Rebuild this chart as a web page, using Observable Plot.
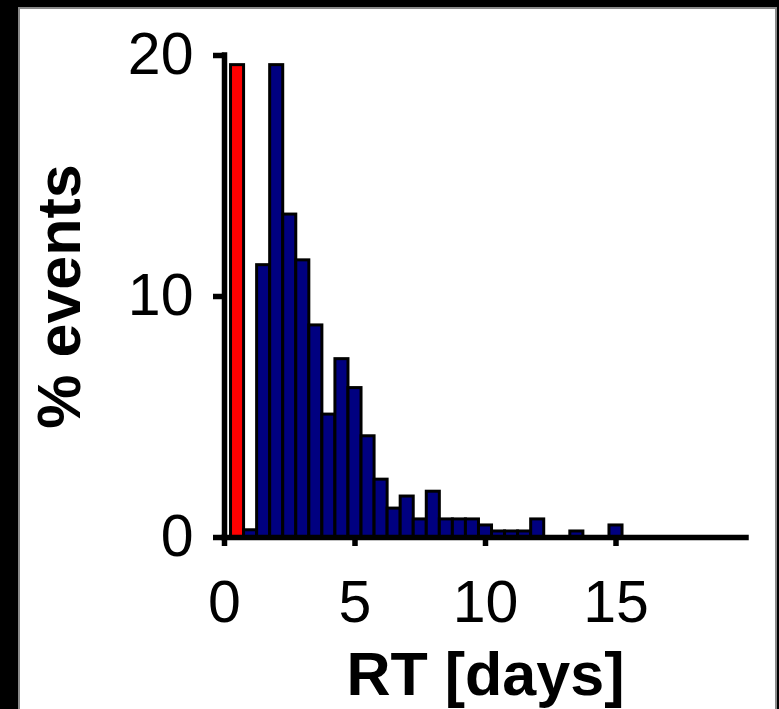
<!DOCTYPE html>
<html>
<head>
<meta charset="utf-8">
<script src="https://cdn.jsdelivr.net/npm/d3@7"></script>
<script src="https://cdn.jsdelivr.net/npm/@observablehq/plot@0.6"></script>
<style>
  html, body { margin: 0; padding: 0; background: #000; width: 779px; height: 709px; overflow: hidden; }
  #panel { position: absolute; left: 18px; top: 7px; width: 759px; height: 710px; background: #fff; border: 2px solid #8a8a8a; box-sizing: border-box; }
  #chart { position: absolute; left: 0; top: 0; }
  #chart g[aria-label$="axis tick"] > * { stroke-width: 5.5px; }
</style>
</head>
<body>
<div id="panel"></div>
<div id="chart"></div>
<script>
// Data (bin centres in days, % of events)
const redDays = [0.5];
const redPct = [19.6];
const blueDays = [1.0, 1.5, 2.0, 2.5, 3.0, 3.5, 4.0, 4.5, 5.0, 5.5, 6.0, 6.5, 7.0, 7.5, 8.0, 8.5, 9.0, 9.5, 10.0, 10.5, 11.0, 11.5, 12.0, 13.5, 15.0];
const bluePct = [0.3, 11.3, 19.6, 13.4, 11.5, 8.8, 5.1, 7.4, 6.2, 4.2, 2.4, 1.2, 1.7, 0.75, 1.9, 0.75, 0.75, 0.75, 0.5, 0.25, 0.25, 0.25, 0.75, 0.25, 0.5];
const binWidth = 0.5;
const xTicks = [0, 5, 10, 15];
const yTicks = [0, 10, 20];
const xLabel = "RT [days]";
const yLabel = "% events";

const redData = redDays.map((d, i) => ({day: d, pct: redPct[i]}));
const blueData = blueDays.map((d, i) => ({day: d, pct: bluePct[i]}));

const font = "'Liberation Sans', Arial, sans-serif";

const chart = Plot.plot({
  width: 779,
  height: 709,
  marginLeft: 224,
  marginRight: 33,
  marginTop: 55,
  marginBottom: 172,
  style: {background: "transparent", fontFamily: font, overflow: "visible"},
  x: {domain: [0, 20]},
  y: {domain: [0, 20]},
  marks: [
    Plot.rectY(redData, {x1: d => d.day - binWidth / 2, x2: d => d.day + binWidth / 2, y: "pct", fill: "#ff0000", stroke: "#000", strokeWidth: 3}),
    Plot.rectY(blueData, {x1: d => d.day - binWidth / 2, x2: d => d.day + binWidth / 2, y: "pct", fill: "#000080", stroke: "#000", strokeWidth: 3}),
    Plot.ruleY([0], {stroke: "#000", strokeWidth: 5.5, strokeLinecap: "square"}),
    Plot.ruleX([0], {stroke: "#000", strokeWidth: 5.5, strokeLinecap: "square"}),
    Plot.axisX({ticks: xTicks, tickSize: 9, tickPadding: 34, strokeWidth: 5.5, fontSize: 59, label: null, color: "#000"}),
    Plot.axisY({ticks: yTicks, tickSize: 11, tickPadding: 20, strokeWidth: 5.5, fontSize: 59, label: null, color: "#000"}),
    Plot.text([xLabel], {frameAnchor: "bottom", dy: 138, fontSize: 61, fontWeight: "bold", fill: "#000", lineAnchor: "middle"}),
    Plot.text([yLabel], {frameAnchor: "left", dx: -164, rotate: -90, fontSize: 61, fontWeight: "bold", fill: "#000", lineAnchor: "middle", textAnchor: "middle"})
  ]
});
// thicken the axis tick marks (style only)
chart.querySelectorAll('g[aria-label*="axis tick"]').forEach(g => {
  g.setAttribute("stroke-width", "5.5");
  g.querySelectorAll("path, line").forEach(p => p.style.strokeWidth = "5.5px");
});
document.getElementById("chart").appendChild(chart);
</script>
</body>
</html>
